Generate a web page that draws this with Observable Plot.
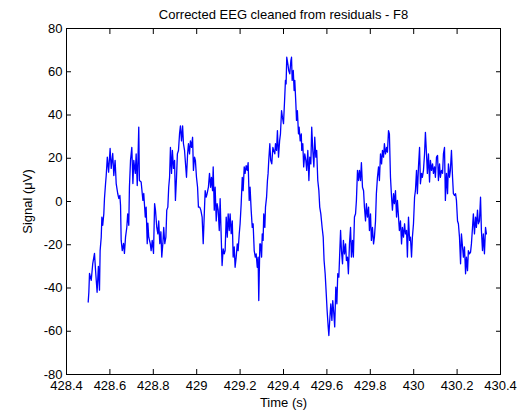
<!DOCTYPE html>
<html><head><meta charset="utf-8">
<script src="https://cdn.jsdelivr.net/npm/d3@7"></script>
<script src="https://cdn.jsdelivr.net/npm/@observablehq/plot@0.6"></script>
<style>body{margin:0;background:#fff} svg{display:block}</style>
</head><body><div id="chart"></div>
<script>
const title = "Corrected EEG cleaned from residuals - F8";
const xLabel = "Time (s)";
const yLabel = "Signal (μV)";
const xTicks = [428.4, 428.6, 428.8, 429.0, 429.2, 429.4, 429.6, 429.8, 430.0, 430.2, 430.4];
const xTickLabels = ["428.4", "428.6", "428.8", "429", "429.2", "429.4", "429.6", "429.8", "430", "430.2", "430.4"];
const yTicks = [-80, -60, -40, -20, 0, 20, 40, 60, 80];
const yTickLabels = ["-80", "-60", "-40", "-20", "0", "20", "40", "60", "80"];

const time = [
428.500,428.503,428.506,428.514,428.521,428.529,428.534,428.541,428.547,428.552,428.555,428.560,428.563,428.567,428.572,428.575,428.580,428.583,428.588,428.594,
428.601,428.606,428.613,428.618,428.624,428.629,428.636,428.641,428.646,428.649,428.652,428.657,428.663,428.667,428.672,428.678,428.682,428.687,428.690,428.695,
428.701,428.706,428.710,428.717,428.721,428.726,428.729,428.733,428.736,428.744,428.752,428.756,428.763,428.767,428.772,428.775,428.779,428.786,428.790,428.795,
428.801,428.806,428.810,428.816,428.821,428.825,428.830,428.835,428.839,428.844,428.848,428.853,428.858,428.862,428.867,428.871,428.875,
428.879,428.884,428.888,428.893,428.898,428.902,428.907,428.911,428.916,428.921,428.925,428.930,428.935,428.939,428.944,428.948,428.953,428.958,428.962,428.967,
428.971,428.976,428.981,428.985,428.990,428.994,428.999,429.004,429.008,429.014,429.019,429.025,429.030,429.035,429.039,429.044,429.048,429.054,429.059,429.064,
429.068,429.073,429.076,429.081,429.085,429.090,429.094,429.099,429.104,429.108,429.113,429.117,429.122,429.127,429.131,429.136,429.141,429.145,429.150,429.154,
429.159,429.164,429.168,429.173,429.177,429.182,429.187,429.191,429.196,429.200,429.205,429.210,429.214,429.219,429.223,429.228,429.233,429.237,429.242,429.246,
429.251,429.256,429.260,429.265,429.270,429.274,429.279,429.283,429.286,429.291,
429.294,429.299,429.302,429.306,429.309,429.314,429.317,429.322,429.326,429.329,429.332,429.337,429.341,429.346,429.351,429.355,429.360,429.363,429.368,429.372,
429.377,429.382,429.386,429.391,429.395,429.400,429.405,429.409,429.412,429.415,429.420,429.424,429.429,429.434,429.437,429.440,429.445,429.449,429.452,429.457,
429.460,429.464,429.469,429.472,429.477,429.482,429.484,429.489,429.493,429.498,429.503,429.507,429.512,429.517,429.521,429.526,429.530,429.535,429.540,429.544,
429.549,429.553,429.558,429.563,429.567,429.572,429.578,429.583,429.587,429.592,429.597,429.601,429.606,429.609,429.613,429.618,429.623,429.627,429.632,429.636,
429.641,429.646,429.650,429.655,429.659,
429.663,429.667,429.672,429.676,429.681,429.686,429.690,429.695,429.699,429.704,429.709,429.713,429.718,429.722,429.727,429.732,429.736,429.741,429.746,429.750,
429.755,429.759,429.764,429.769,429.773,429.778,429.782,429.787,429.792,429.796,429.801,429.805,429.810,429.815,429.819,429.824,429.828,429.833,429.838,429.842,
429.847,429.852,429.856,429.861,429.865,429.870,429.875,429.879,429.884,429.888,429.893,429.898,429.902,429.907,429.911,429.916,429.921,429.925,429.930,429.934,
429.939,429.944,429.948,429.953,429.958,429.962,429.967,429.971,429.976,429.981,429.985,429.990,429.994,429.999,430.004,
430.008,430.013,430.017,430.022,430.027,430.031,430.036,430.040,430.045,430.050,430.054,430.059,430.063,430.068,430.073,430.077,430.082,430.087,430.091,430.096,
430.100,430.105,430.110,430.114,430.119,430.123,430.128,430.133,430.137,430.142,430.146,430.151,430.156,430.160,430.165,430.169,430.174,430.179,430.183,430.188,
430.193,430.197,430.202,430.206,430.211,430.216,430.220,430.225,430.229,430.234,430.239,430.243,430.248,430.252,430.257,430.262,430.266,430.271,430.275,430.280,
430.285,430.289,430.294,430.298,430.303,430.308,430.312,430.317,430.321,430.326,430.331,430.335
];

const signal = [
-46.5,-42.0,-33.3,-36.5,-28.7,-24.0,-32.0,-42.0,-30.0,-41.0,-22.7,-16.5,-7.2,-11.0,-5.6,1.4,8.3,12.0,20.5,13.6,
24.5,15.3,22.2,12.0,19.0,8.3,3.7,1.4,2.8,-1.8,-18.0,-22.7,-19.4,-24.0,-16.5,-11.9,-5.7,-11.0,6.6,19.0,
25.0,8.3,19.0,13.0,22.0,7.4,17.6,34.4,9.7,9.0,0.5,3.7,-7.2,-2.6,-19.5,-10.0,-16.5,-19.5,-22.7,-18.0,
-24.0,-1.0,-4.0,-12.0,-15.0,-9.0,-19.5,-14.0,-25.7,-19.5,-12.0,-19.5,-16.5,-4.0,-2.6,6.6,11.2,
25.0,13.0,23.6,15.3,19.0,0.5,11.2,22.0,23.6,31.4,35.0,28.0,35.0,26.7,23.6,18.0,11.2,22.0,26.7,22.0,
28.0,25.0,29.7,14.4,20.5,19.0,11.2,6.6,-2.6,-2.6,-4.0,-7.2,-19.5,-5.6,5.0,2.0,3.6,6.6,13.0,6.6,
11.2,5.0,16.0,-4.0,6.6,-9.0,-1.0,-4.0,-13.4,1.3,-16.5,-29.6,-21.9,-24.2,-22.7,-7.2,-16.5,-5.7,-13.4,-5.7,
-14.9,-9.0,-25.7,-21.0,-30.4,-25.7,-19.6,-22.7,-15.0,-10.3,-1.0,11.2,5.0,16.0,13.0,16.6,14.4,18.0,0.5,6.6,
-4.0,-12.0,-10.3,-22.7,-25.7,-24.2,-30.4,-25.7,-45.8,-19.6,
-19.6,-25.7,-15.0,-18.0,-5.7,-12.0,-2.6,2.0,9.7,13.0,19.0,26.7,19.0,17.4,25.0,23.6,22.0,26.7,23.6,32.8,
20.5,28.0,31.3,42.0,39.0,36.0,46.7,56.0,54.4,66.7,63.7,60.6,59.0,65.2,66.7,56.0,60.6,51.3,56.0,45.2,
37.5,42.0,31.3,34.4,28.0,31.3,23.6,26.7,16.0,22.0,19.0,14.4,23.6,9.7,20.5,17.4,34.4,23.6,16.0,29.7,
20.5,23.6,9.7,5.0,-2.6,-5.7,-12.0,-16.5,-27.3,-33.4,-42.7,-50.4,-58.0,-62.0,-55.0,-47.3,-55.0,-45.8,-52.0,-58.0,
-39.6,-47.3,-33.4,-35.0,-24.2,
-13.4,-22.7,-28.8,-18.0,-24.2,-19.6,-27.3,-25.7,-33.4,-19.6,-12.0,-25.7,-18.0,-25.7,-7.2,-5.7,0.5,14.4,9.7,14.4,
9.7,18.0,6.6,5.0,-2.6,-9.0,-1.0,-7.2,-2.6,-13.4,-5.7,-18.0,-12.0,-19.6,-16.5,-9.0,3.6,11.2,16.0,9.7,
22.0,17.4,23.6,20.5,26.7,22.0,25.0,22.8,32.8,31.3,11.2,2.0,-4.0,3.6,-1.0,5.0,-7.2,0.5,-7.2,-13.4,
-9.0,-19.6,-12.0,-16.5,-10.3,-15.0,-13.4,-25.7,-7.2,-18.0,-16.5,-25.7,-16.5,-10.3,2.0,
5.0,14.4,3.6,16.0,25.0,8.2,13.0,11.2,14.4,22.0,32.0,22.0,13.0,22.0,9.0,19.0,14.4,17.4,13.0,16.0,
11.2,20.5,21.3,9.7,17.4,11.2,14.4,13.0,22.0,25.0,0.5,13.0,3.6,17.4,11.2,14.4,23.6,11.2,3.6,2.8,
3.6,0.5,-9.0,-10.3,-16.5,-28.8,-15.0,-21.0,-25.7,-21.0,-33.4,-25.7,-32.0,-22.7,-24.2,-23.4,-19.6,-12.0,-5.7,-15.0,
-7.2,-12.0,-4.0,-10.3,-9.0,2.0,-13.4,-22.7,-15.0,-24.2,-12.0,-15.0
];

const font = "'Liberation Sans', Arial, Helvetica, sans-serif";
const fmtX = d => xTickLabels[xTicks.indexOf(d)];
const fmtY = d => yTickLabels[yTicks.indexOf(d)];

const chart = Plot.plot({
  width: 528,
  height: 412,
  marginTop: 28,
  marginRight: 28,
  marginBottom: 38,
  marginLeft: 66,
  style: {fontFamily: font, fontSize: "13px", color: "black", background: "white"},
  x: {domain: [xTicks[0], xTicks[xTicks.length - 1]]},
  y: {domain: [yTicks[0], yTicks[yTicks.length - 1]]},
  marks: [
    Plot.line(signal, {x: time, y: signal, stroke: "#0000ff", strokeWidth: 1.3}),
    Plot.frame({stroke: "black"}),
    Plot.axisX({anchor: "bottom", ticks: xTicks, tickFormat: fmtX, tickSize: -5, tickPadding: 11,
      label: xLabel, labelAnchor: "center", labelOffset: 32, labelArrow: "none"}),
    Plot.axisX({anchor: "top", ticks: xTicks, tickFormat: () => "", tickSize: -5, label: null}),
    Plot.axisY({anchor: "left", ticks: yTicks, tickFormat: fmtY, tickSize: -5, tickPadding: 9,
      label: yLabel, labelAnchor: "center", labelOffset: 44, labelArrow: "none"}),
    Plot.axisY({anchor: "right", ticks: yTicks, tickFormat: () => "", tickSize: -5, label: null}),
    Plot.text([title], {text: d => d, frameAnchor: "top", dy: -14, lineAnchor: "middle", fontSize: 13})
  ]
});
document.getElementById("chart").appendChild(chart);
</script>
</body></html>
